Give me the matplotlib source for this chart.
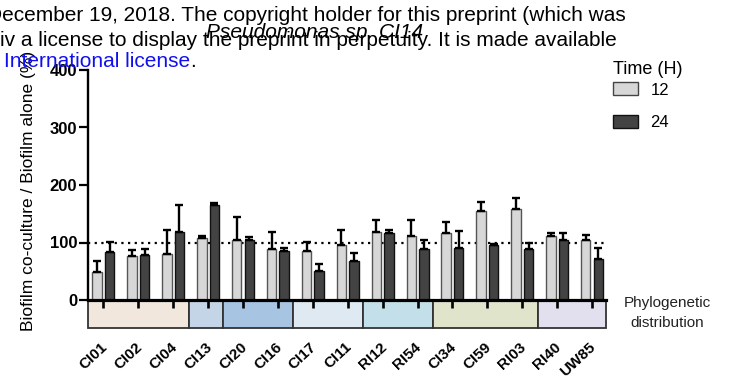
import matplotlib
matplotlib.use("Agg")
import matplotlib.pyplot as plt
from matplotlib.patches import Rectangle, Patch
from matplotlib.transforms import ScaledTranslation
import numpy as np

plt.rcParams['font.family'] = ['Liberation Sans', 'DejaVu Sans']

# ---------------- data ----------------
strains = ['CI01', 'CI02', 'CI04', 'CI13', 'CI20', 'CI16', 'CI17', 'CI11',
           'RI12', 'RI54', 'CI34', 'CI59', 'RI03', 'RI40', 'UW85']
mean_12h = [48, 76, 80, 107, 104, 89, 86, 95, 118, 112, 116, 154, 158, 112, 105]
err_12h = [20, 11, 42, 4, 40, 29, 15, 26, 22, 27, 20, 16, 19, 5, 8]
mean_24h = [83, 79, 118, 166, 104, 85, 50, 68, 117, 88, 90, 96, 88, 104, 72]
err_24h = [18, 9, 47, 2, 6, 5, 13, 13, 4, 16, 30, 2, 11, 12, 18]
series_labels = ['12', '24']
group_sizes = [3, 1, 2, 2, 2, 3, 2]
group_colors = ['#F1E7DD', '#C3D5E7', '#A7C4E3', '#DEE9F1', '#C3E0EA', '#DFE4CB', '#E2E0EE']
title = 'Pseudomonas sp. CI14'
ylabel = 'Biofilm co-culture / Biofilm alone (%)'
legend_title = 'Time (H)'
side_label = 'Phylogenetic\ndistribution'
header_lines = ['December 19, 2018. The copyright holder for this preprint (which was',
                'iv a license to display the preprint in perpetuity. It is made available',
                'International license']

W, H = 729, 382
fig = plt.figure(figsize=(W / 100, H / 100), dpi=100)

def fx(px):
    return px / W

def fy(py):
    return 1 - py / H

ax_left, ax_right, ax_top, ax_bot = 87.7, 606, 70, 300
ax = fig.add_axes([fx(ax_left), fy(ax_bot), (ax_right - ax_left) / W, (ax_bot - ax_top) / H])

x = np.arange(len(strains))
light, dark = '#D7D7D7', '#434343'
ekw = dict(ecolor='black', elinewidth=1.7, capsize=3, capthick=1.7)
ax.bar(x - 0.18, mean_12h, width=0.27, color=light, edgecolor='#555555', linewidth=1.0,
       yerr=[np.zeros(len(x)), err_12h], error_kw=ekw, zorder=2)
ax.bar(x + 0.18, mean_24h, width=0.27, color=dark, edgecolor='#111111', linewidth=1.0,
       yerr=[np.zeros(len(x)), err_24h], error_kw=ekw, zorder=2)

ax.axhline(100, color='black', linestyle=(0, (1, 2)), linewidth=1.6, zorder=1)

xmin, xmax = -0.45, 14.40
ax.set_xlim(xmin, xmax)
ax.set_ylim(0, 400)
ax.set_yticks([0, 100, 200, 300, 400])

# phylogenetic group boxes below the axis
box_depth = 48
edges = [xmin]
acc = 0
for s in group_sizes[:-1]:
    acc += s
    edges.append(acc - 0.56)
edges.append(xmax)
for i, c in enumerate(group_colors):
    r = Rectangle((edges[i], 0), edges[i + 1] - edges[i], -box_depth, facecolor=c,
                  edgecolor='#333333', linewidth=1.3, clip_on=False, zorder=0.5)
    ax.add_patch(r)

for s in ['top', 'right']:
    ax.spines[s].set_visible(False)
ax.spines['left'].set_linewidth(1.7)
ax.spines['bottom'].set_linewidth(2.3)

ax.tick_params(axis='y', direction='out', length=6.5, width=1.6, labelsize=12, pad=1)
ax.tick_params(axis='x', direction='out', length=5.8, width=1.9, labelsize=11, pad=23)
for lab in ax.get_yticklabels():
    lab.set_fontweight('bold')
ax.set_xticks(x)
ax.set_xticklabels(strains, rotation=43, ha='right', va='top', rotation_mode='anchor',
                   fontweight='bold')
shift = ScaledTranslation(-3 / 100, 0, fig.dpi_scale_trans)
for lab in ax.get_xticklabels():
    lab.set_transform(lab.get_transform() + shift)

ax.set_ylabel(ylabel, fontsize=12.5)
ax.yaxis.set_label_coords(-0.10, 0.476)

# legend
handles = [Patch(facecolor=light, edgecolor='#444444', linewidth=1.0),
           Patch(facecolor=dark, edgecolor='#111111', linewidth=1.0)]
leg = fig.legend(handles, series_labels, title=legend_title, loc='upper left',
                 bbox_to_anchor=(fx(613), fy(61)), frameon=False, fontsize=12,
                 title_fontsize=13, handlelength=1.5, handleheight=0.85,
                 labelspacing=1.03, handletextpad=0.75, borderpad=0, borderaxespad=0,
                 alignment='left')
leg._legend_box.sep = 3

fig.text(fx(667), fy(313), side_label, ha='center', va='center', fontsize=11,
         color='#222222', linespacing=1.55)

# header text overlay
fs = 15
fig.text(fx(-13), fy(21), header_lines[0], fontsize=fs, va='baseline', ha='left')
fig.text(fx(0), fy(46), header_lines[1], fontsize=fs, va='baseline', ha='left')
t3 = fig.text(fx(4), fy(67), header_lines[2], fontsize=fs, va='baseline', ha='left',
              color='#1010EE')
ax.annotate('.', xy=(1, 0), xycoords=t3, ha='left', va='bottom', fontsize=fs,
            color='black', annotation_clip=False)
fig.text(fx(315), fy(37.5), title, fontsize=fs, style='italic', va='baseline', ha='center')

fig.savefig('out.png', dpi=100)
